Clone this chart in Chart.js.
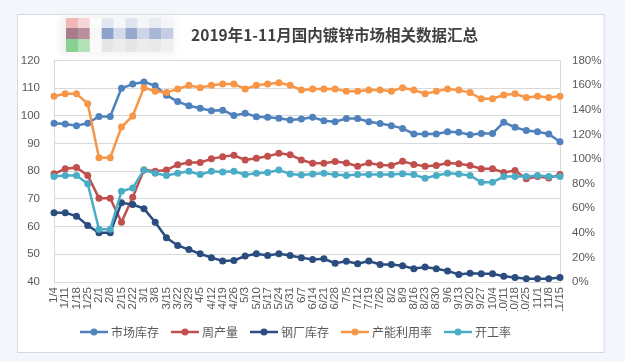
<!DOCTYPE html>
<html>
<head>
<meta charset="utf-8">
<script src="https://cdn.jsdelivr.net/npm/chart.js@4/dist/chart.umd.min.js"></script>
<style>
  html, body { margin: 0; padding: 0; background: #f3f7fc; }
  canvas { display: block; }
</style>
</head>
<body>
<canvas id="zincChart" width="625" height="362"></canvas>
<script>
var weeks = ['1/4','1/11','1/18','1/25','2/1','2/8','2/15','2/22','3/1','3/8','3/15','3/22','3/29','4/5','4/12','4/19','4/26',
  '5/3','5/10','5/17','5/24','5/31','6/7','6/14','6/21','6/28','7/5','7/12','7/19','7/26','8/2','8/9','8/16','8/23','8/30',
  '9/6','9/13','9/20','9/27','10/4','10/11','10/18','10/25','11/1','11/8','11/15'];

// left axis (万吨)
var marketStock = [97.4,97.1,96.5,97.4,99.8,99.8,110.0,111.5,112.3,110.9,107.5,105.2,103.7,102.8,101.9,102.1,100.2,
  101.0,99.7,99.5,99.2,98.5,98.9,99.5,98.3,97.9,99.1,99.1,97.9,97.3,96.5,95.5,93.5,
  93.5,93.5,94.3,94.1,93.2,93.7,93.7,97.7,95.9,94.7,94.3,93.5,90.7];
var weeklyOutput = [79.1,80.9,81.4,78.5,70.3,70.3,61.6,70.6,80.5,80.0,80.5,82.4,83.2,83.2,84.5,85.3,85.8,
  84.1,84.7,85.4,86.5,86.0,84.1,82.9,82.9,83.5,83.0,81.8,83.0,82.3,82.1,83.6,82.5,
  81.8,82.1,83.0,82.7,82.1,80.9,80.9,79.6,80.3,77.3,78.1,77.6,78.8];
var millStock = [65.0,65.0,63.8,60.4,57.8,57.8,68.6,68.0,66.5,61.6,56.0,53.2,51.7,50.2,48.8,47.6,47.8,
  49.4,50.2,49.6,50.2,49.6,48.8,48.1,48.4,46.8,47.5,46.6,47.6,46.3,46.3,45.9,44.8,
  45.4,44.8,44.0,42.7,43.2,43.0,43.0,42.1,41.6,41.2,41.2,41.2,41.6];
// right axis (%)
var capacityRate = [151,153,153,145,101,101,126,135,158,155,154,157,160,158,160,161,161,
  157,160,161,162,160,156,157,157,157,155,155,156,156,155,158,156,
  153,155,157,156,154,149,149,152,153,150,151,150,151];
var operatingRate = [85.7,86.6,86.6,79.9,42.8,42.8,73.8,76.5,91.1,88.4,86.6,88.4,90.0,87.3,90.0,89.5,90.0,
  87.3,88.4,89.1,91.1,87.8,86.9,87.8,88.4,87.3,86.6,87.3,87.3,87.3,87.3,88.0,87.3,
  84.4,86.6,88.4,87.8,86.6,81.0,81.0,85.7,85.7,85.7,86.6,85.7,85.7];

var leftTicks = { min: 40, max: 120, step: 10 };
var rightTicks = { min: 0, max: 180, step: 20 };

var textColor = '#595959';
var gridColor = '#d9d9d9';
var tickFont = { family: '"Liberation Sans", "Noto Sans CJK SC", sans-serif', size: 11.5 };
var cjkFont = '"Noto Sans CJK SC", "Liberation Sans", sans-serif';

function makeLine(label, data, color, axis, order) {
  return {
    label: label,
    data: data,
    yAxisID: axis,
    borderColor: color,
    backgroundColor: color,
    borderWidth: 2.5,
    pointRadius: 3.5,
    pointBorderWidth: 0,
    pointBackgroundColor: color,
    tension: 0,
    fill: false,
    order: order
  };
}

// small line-with-dot icon for legend
function legendIcon(color) {
  var c = document.createElement('canvas');
  c.width = 28;
  c.height = 10;
  var g = c.getContext('2d');
  g.strokeStyle = color;
  g.lineWidth = 2.5;
  g.beginPath();
  g.moveTo(0, 5);
  g.lineTo(28, 5);
  g.stroke();
  g.fillStyle = color;
  g.beginPath();
  g.arc(14, 5, 3.5, 0, Math.PI * 2);
  g.fill();
  return c;
}

var backdrop = {
  id: 'backdrop',
  beforeDraw: function (chart) {
    var ctx = chart.ctx;
    ctx.save();
    ctx.fillStyle = '#f3f7fc';
    ctx.fillRect(0, 0, chart.width, chart.height);
    ctx.fillStyle = '#ffffff';
    ctx.fillRect(17.5, 14.5, 586.5, 338);
    ctx.strokeStyle = '#d3d9e2';
    ctx.lineWidth = 1;
    ctx.strokeRect(17.5, 14.5, 586.5, 338);

    // blurred logo patch in the corner
    var rows = [
      ['#f2b8b8','#f6d6d6','#fbfbfb','#e2e6f0','#f6f7fa','#e0e4ef','#f4f5f9','#e8ebf2','#f4f5f9'],
      ['#a87b8d','#b98f9e','#f7f7f7','#8ea2cb','#d3dbea','#98a9cf','#cdd5e7','#a8b6d8','#c4cde3'],
      ['#88d190','#b0e2b6','#fafafa','#e6e6e6','#ececec','#e6e6e6','#ececec','#e9e9e9','#f0f0f0']
    ];
    var rowY = [18, 28, 39, 52];
    ctx.filter = 'blur(3px)';
    ctx.fillStyle = '#f1f1f1';
    ctx.fillRect(60, 16, 114, 38);
    ctx.filter = 'blur(0.6px)';
    for (var r = 0; r < rows.length; r++) {
      for (var k = 0; k < rows[r].length; k++) {
        ctx.fillStyle = rows[r][k];
        ctx.fillRect(66 + k * 11.9, rowY[r], 12, rowY[r + 1] - rowY[r]);
      }
    }
    ctx.restore();
  },
  afterLayout: function (chart) {
    // nudge title and legend like the original layout
    chart.titleBlock.left += 24;
    chart.titleBlock.right += 24;
    chart.legend.left -= 13.5;
    chart.legend.right -= 13.5;
  }
};

var ctx = document.getElementById('zincChart').getContext('2d');
var chart = new Chart(ctx, {
  type: 'line',
  data: {
    labels: weeks,
    datasets: [
      makeLine('市场库存', marketStock, '#4f81bd', 'y', 5),
      makeLine('周产量', weeklyOutput, '#c0504d', 'y', 4),
      makeLine('钢厂库存', millStock, '#2b4c7e', 'y', 3),
      makeLine('产能利用率', capacityRate, '#f79646', 'y1', 2),
      makeLine('开工率', operatingRate, '#4bacc6', 'y1', 1)
    ]
  },
  plugins: [backdrop],
  options: {
    responsive: false,
    animation: false,
    layout: { padding: { left: 18, right: 22, top: 14, bottom: 14 } },
    plugins: {
      tooltip: { enabled: false },
      title: {
        display: true,
        text: '2019年1-11月国内镀锌市场相关数据汇总',
        color: '#404040',
        font: { family: cjkFont, size: 15.5, weight: 'bold' },
        padding: { top: 12, bottom: 16 }
      },
      legend: {
        position: 'bottom',
        labels: {
          usePointStyle: true,
          pointStyleWidth: 22,
          boxHeight: 12,
          padding: 15,
          color: textColor,
          font: { family: cjkFont, size: 12 },
          generateLabels: function (chart) {
            return chart.data.datasets.map(function (ds, i) {
              return {
                text: ds.label,
                pointStyle: legendIcon(ds.borderColor),
                fillStyle: ds.borderColor,
                strokeStyle: ds.borderColor,
                lineWidth: 0,
                fontColor: textColor,
                hidden: !chart.isDatasetVisible(i),
                datasetIndex: i
              };
            });
          }
        }
      }
    },
    scales: {
      x: {
        offset: false,
        grid: { display: false, drawTicks: false },
        border: { display: true, color: gridColor },
        ticks: {
          autoSkip: false,
          maxRotation: 90,
          minRotation: 90,
          padding: 5,
          color: textColor,
          font: tickFont
        },
        afterFit: function (scale) { scale.height = 29; }
      },
      y: {
        position: 'left',
        min: leftTicks.min,
        max: leftTicks.max,
        grid: { color: gridColor, drawTicks: false },
        border: { display: true, color: gridColor },
        ticks: { stepSize: leftTicks.step, padding: 14, color: textColor, font: tickFont },
        afterFit: function (scale) { scale.width = 36; }
      },
      y1: {
        position: 'right',
        min: rightTicks.min,
        max: rightTicks.max,
        grid: { drawOnChartArea: false, drawTicks: false },
        border: { display: true, color: gridColor },
        ticks: {
          stepSize: rightTicks.step,
          padding: 12,
          color: textColor,
          font: tickFont,
          callback: function (v) { return v + '%'; }
        },
        afterFit: function (scale) { scale.width = 43; }
      }
    }
  }
});
</script>
</body>
</html>
